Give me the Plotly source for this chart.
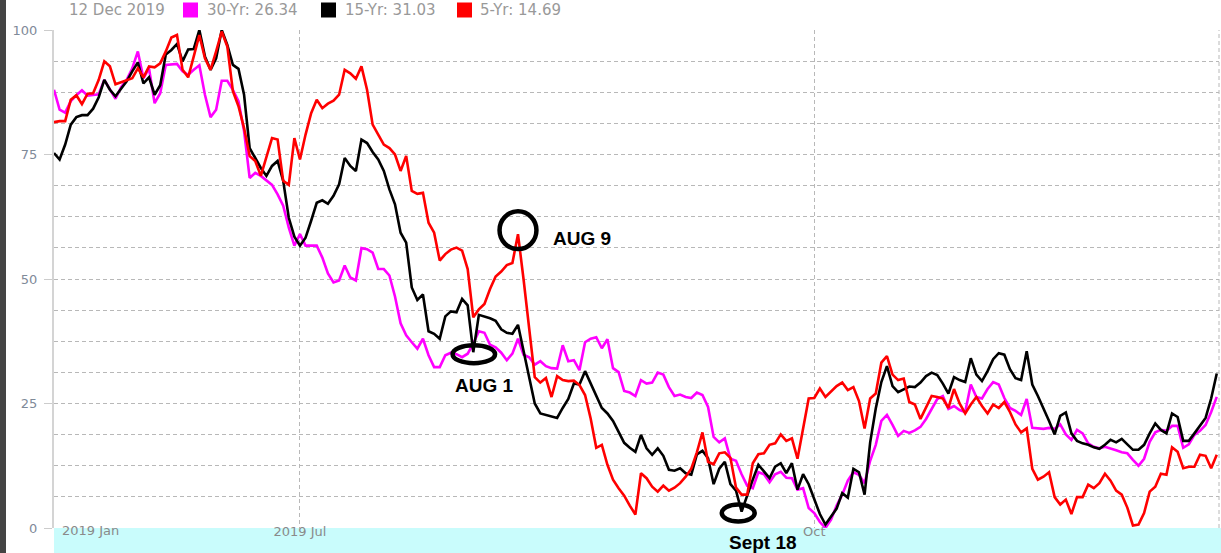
import plotly.graph_objects as go
import pandas as pd

# ---------------- data ----------------
START_DATE = "2019-05-18"
HEADER_DATE = "12 Dec 2019"
series_names = ["30-Yr", "15-Yr", "5-Yr"]

yr30 = [
    88.0, 84.0, 83.4, 85.7, 86.9, 87.9, 86.8, 86.9, 87.1, 90.0, 88.0, 86.2, 88.5, 90.0, 92.3, 95.7, 90.3, 92.3,
    85.3, 87.3, 93.0, 93.1, 93.2, 91.7, 91.0, 92.0, 92.9, 87.0, 82.5, 84.0, 89.8, 89.8, 88.0, 85.7, 79.7, 70.3,
    71.3, 70.7, 69.8, 68.9, 67.0, 64.7, 60.3, 56.7, 59.0, 56.7, 56.7, 56.7, 54.3, 51.1, 49.3, 49.7, 52.7, 50.3,
    49.7, 56.2, 56.0, 55.3, 52.0, 52.0, 50.7, 46.5, 41.1, 38.7, 37.3, 36.0, 38.0, 34.7, 32.3, 32.3,
    34.7, 35.2, 34.9, 34.3, 35.0, 37.0, 39.5, 39.2, 36.8, 36.3, 35.2, 33.7, 35.0, 38.0, 34.8, 34.3, 32.8, 33.5,
    32.5, 32.1, 32.0, 36.7, 33.5, 33.7, 31.7, 37.3, 38.0, 38.3, 36.1, 37.9, 32.1, 31.3, 27.5, 27.2, 26.5,
    29.7, 29.0, 29.2, 31.2, 30.8, 28.3, 26.5, 26.8, 26.3, 26.1, 27.2, 26.7, 24.3, 18.3, 17.2, 18.0, 13.9, 13.5,
    10.8, 8.5, 8.0, 11.2, 10.8, 9.2, 10.8, 11.3, 10.1, 10.0, 7.7, 8.0, 4.0, 3.0, 1.2, 0.0, 1.7,
    4.5, 6.7, 9.5, 11.2, 10.7, 9.0, 13.5, 16.7, 21.5, 22.7, 20.7, 18.5, 19.5, 19.1, 19.6, 20.3, 21.9, 23.9,
    25.9, 26.5, 23.9, 24.5, 23.7, 23.3, 28.8, 26.3, 26.0, 27.9, 29.3, 28.8, 26.1, 24.1, 23.5,
    22.7, 25.9, 20.1, 20.0, 19.9, 20.1, 19.9, 20.8, 18.8, 17.7, 19.7, 19.0, 17.0, 16.3, 16.0, 16.3, 16.0, 15.6,
    15.2, 15.0, 13.7, 12.5, 13.9, 17.3, 19.2, 19.7, 19.5, 20.5, 20.5, 16.1, 16.8, 18.7, 19.5, 20.7, 23.3, 26.34,
]

yr15 = [
    75.3, 74.0, 77.0, 81.0, 82.5, 82.9, 82.9, 84.2, 86.5, 90.0, 88.0, 86.7, 88.2, 89.7, 91.7, 93.5, 89.3, 90.5,
    87.0, 88.9, 95.1, 96.0, 97.2, 93.7, 96.1, 96.2, 100.0, 94.7, 92.0, 94.3, 100.0, 97.0, 93.0, 92.2, 87.0, 76.3,
    74.3, 72.3, 70.7, 72.7, 73.7, 69.7, 62.3, 58.5, 56.7, 58.3, 61.7, 65.3, 65.8, 65.1, 66.7, 69.0, 74.3, 72.7,
    71.7, 78.0, 77.3, 75.5, 74.0, 71.7, 68.0, 65.0, 59.3, 57.3, 48.3, 45.8, 46.9, 39.5, 39.0, 38.0,
    42.5, 43.5, 43.3, 46.0, 44.7, 35.3, 42.8, 42.5, 42.1, 41.6, 39.9, 39.2, 39.0, 40.8, 35.7, 30.3, 25.0, 23.0,
    22.7, 22.5, 22.1, 24.1, 25.9, 29.0, 28.8, 31.5, 29.0, 26.5, 24.1, 23.0, 21.5, 19.3, 17.1, 16.1, 15.3, 18.7,
    16.0, 14.7, 16.0, 14.5, 11.7, 11.5, 12.0, 11.0, 10.7, 14.8, 15.5, 14.0, 8.8, 11.9, 13.3, 8.8, 7.5, 3.3,
    6.7, 9.7, 12.7, 11.3, 10.0, 12.3, 13.0, 11.0, 13.0, 7.7, 10.8, 8.8, 6.0, 2.8, 0.7, 2.2,
    3.9, 7.0, 6.1, 11.9, 11.2, 6.7, 17.2, 24.0, 29.3, 32.5, 28.5, 27.3, 27.9, 28.4, 28.3, 29.2, 30.5, 31.2,
    30.7, 29.0, 27.0, 30.3, 29.7, 29.3, 34.1, 30.8, 29.5, 31.5, 33.9, 35.1, 34.8, 31.9, 30.1,
    29.7, 35.5, 28.8, 26.5, 24.1, 21.5, 18.8, 22.5, 23.2, 19.0, 17.5, 17.0, 16.7, 16.2, 15.9, 16.7, 17.7, 17.2,
    17.9, 16.7, 15.7, 15.7, 16.7, 19.0, 21.0, 19.7, 19.0, 23.0, 22.3, 17.5, 17.5, 19.0, 20.5, 22.1, 26.0, 31.03,
]

yr5 = [
    81.5, 81.7, 81.7, 86.0, 86.9, 85.1, 87.2, 87.3, 90.0, 93.7, 92.7, 89.1, 89.5, 89.9, 90.3, 92.3, 90.5, 92.7,
    92.5, 93.3, 95.7, 98.5, 99.0, 92.0, 90.5, 94.7, 99.0, 94.3, 92.0, 95.7, 99.7, 96.7, 87.7, 84.7, 80.3, 74.7,
    73.7, 70.7, 74.3, 78.3, 78.0, 69.7, 68.9, 78.3, 74.0, 79.0, 83.3, 86.0, 84.3, 85.2, 85.8, 87.0, 92.0, 91.3,
    90.2, 92.7, 88.0, 81.0, 79.0, 77.0, 76.3, 75.0, 71.7, 74.7, 67.7, 67.1, 67.3, 61.3, 59.3, 53.7,
    55.0, 55.9, 56.3, 55.7, 52.0, 42.3, 43.9, 45.0, 48.0, 50.5, 51.5, 52.8, 53.2, 59.0, 49.9, 40.4, 30.3, 29.2,
    30.1, 26.3, 30.5, 29.7, 29.5, 29.6, 28.7, 26.7, 22.0, 16.1, 16.7, 12.7, 9.7,
    8.0, 6.5, 4.5,
    2.7, 11.0, 10.0, 8.3, 7.3, 8.5, 7.5, 8.1, 9.0, 10.3, 11.9, 15.2, 19.2, 13.3, 12.8, 15.0, 15.2, 14.1,
    8.1, 6.7, 6.7, 13.0, 14.8, 15.0, 16.7, 17.0, 18.8, 17.5, 18.0, 13.9, 20.3, 26.0, 26.1, 28.0, 26.3, 27.5,
    28.5, 29.2, 27.7, 28.3, 25.5, 20.0, 26.0, 27.0, 33.2, 34.5, 30.8, 29.7, 30.0, 25.3, 24.8, 21.9, 24.3, 26.5,
    26.3, 26.0, 24.1, 27.9, 25.0, 23.0, 24.8, 26.3, 24.5, 23.0, 24.8, 24.1, 25.3, 23.3, 20.8,
    19.2, 20.0, 11.9, 9.7, 10.3, 11.2, 6.2, 4.7, 5.7, 2.8, 6.2, 6.2, 8.7, 8.0, 9.0, 10.9, 9.5, 7.5,
    6.7, 4.1, 0.5, 0.7, 3.0, 7.3, 8.3, 10.9, 10.7, 16.2, 15.3, 12.0, 12.3, 12.3, 14.7, 14.5, 12.0, 14.69,
]

y_tick_vals = [0, 25, 50, 75, 100]
x_tick_dates = ["2019-07-01", "2019-10-01"]
x_tick_text = ["2019 Jul", "Oct"]
first_label = "2019 Jan"

callouts = [  # (label, date)
    ("AUG 9", "2019-08-09"),
    ("AUG 1", "2019-08-01"),
    ("Sept 18", "2019-09-18"),
]

# ---------------- figure ----------------
dates = pd.date_range(START_DATE, periods=len(yr15), freq="D")
colors = ["#ff00ff", "#000000", "#ff0000"]
values = [yr30, yr15, yr5]

W, H = 1221, 553
L, R, T, B = 54, 2, 30, 25
PW, PH = W - L - R, H - T - B


def px(x):
    return (x - L) / PW


def py(y):
    return (H - B - y) / PH


fig = go.Figure()
for name, vals, col in zip(series_names, values, colors):
    fig.add_trace(go.Scatter(x=dates, y=vals, mode="lines", name=name,
                             line=dict(color=col, width=2.6), showlegend=False))

day = pd.Timedelta(days=1)
x_end = dates[-1] + 0.4 * day

grid_col = "#b8b8b8"
fig.update_layout(
    width=W, height=H,
    margin=dict(l=L, r=R, t=T, b=B),
    paper_bgcolor="white", plot_bgcolor="white",
    font=dict(family="DejaVu Sans", color="#888888"),
    xaxis=dict(
        range=[dates[0], x_end], type="date",
        tickvals=x_tick_dates, ticktext=x_tick_text,
        showgrid=True, gridcolor=grid_col, griddash="4px,3px", gridwidth=1,
        ticks="", showline=False, zeroline=False,
        tickfont=dict(size=13, color="#8a8a8a"),
        ticklabelstandoff=-6,
    ),
    yaxis=dict(
        range=[0, 100], tickvals=y_tick_vals,
        showgrid=True, gridcolor=grid_col, griddash="4px,3px", gridwidth=1,
        minor=dict(dtick=6.25, tick0=0, showgrid=True, gridcolor=grid_col,
                   griddash="4px,3px", gridwidth=1, ticks=""),
        ticks="outside", ticklen=8, tickcolor="#cccccc", tickwidth=1,
        showline=True, linecolor="#d4d4d4", linewidth=2,
        zeroline=False,
        tickfont=dict(size=13, color="#7f8a99"),
        ticklabelstandoff=4,
    ),
)

shapes = []
# cyan band under the plot
shapes.append(dict(type="rect", xref="paper", yref="paper", x0=0, x1=px(W), y0=py(H), y1=0,
                   fillcolor="#c9fcfc", line=dict(width=0), layer="below"))
# window edge strip on the left
shapes.append(dict(type="rect", xref="paper", yref="paper", x0=px(0), x1=px(6), y0=py(H), y1=py(0),
                   fillcolor="#444444", line=dict(width=0)))
# right dashed border
shapes.append(dict(type="line", xref="paper", yref="paper", x0=1, x1=1, y0=0, y1=1,
                   line=dict(color=grid_col, width=1, dash="4px,3px")))

# callout circles (centre offsets in days / value units, half sizes)
ell = {
    "AUG 9": (0.0, 59.8, 3.3, 3.8),
    "AUG 1": (0.1, 34.9, 3.8, 1.8),
    "Sept 18": (-0.6, 3.0, 2.95, 1.7),
}
text_pos = {  # (paper y, xshift, xanchor)
    "AUG 9": (py(238), 33, "left"),
    "AUG 1": (py(385), 11, "center"),
    "Sept 18": (py(542), 21, "center"),
}
annotations = []
for label, d in callouts:
    t = pd.Timestamp(d)
    dx, cy, hx, hy = ell[label]
    c = t + dx * day
    shapes.append(dict(type="circle", xref="x", yref="y",
                       x0=c - hx * day, x1=c + hx * day, y0=cy - hy, y1=cy + hy,
                       line=dict(color="black", width=4.5)))
    tv, xs, xa = text_pos[label]
    annotations.append(dict(x=t, y=tv, xref="x", yref="paper", text=label, showarrow=False,
                            xanchor=xa, yanchor="middle", xshift=xs,
                            font=dict(family="Liberation Sans", size=19, color="black", weight="bold")))

# first x label
annotations.append(dict(x=0, y=py(530), xref="paper", yref="paper", text=first_label, showarrow=False,
                        xanchor="left", yanchor="middle", xshift=6,
                        font=dict(size=13, color="#8a8a8a")))

# header: date + legend
hy = py(10.5)
annotations.append(dict(x=px(67), y=hy, xref="paper", yref="paper", text=HEADER_DATE, showarrow=False,
                        xanchor="left", yanchor="middle", font=dict(size=15, color="#999999")))
legend_x = [(183, 205), (321, 343), (457, 478)]
for (sx, tx), name, vals, col in zip(legend_x, series_names, values, colors):
    shapes.append(dict(type="rect", xref="paper", yref="paper", x0=px(sx), x1=px(sx + 15),
                       y0=py(17.5), y1=py(2.5), fillcolor=col, line=dict(width=0)))
    annotations.append(dict(x=px(tx), y=hy, xref="paper", yref="paper",
                            text=f"{name}: {vals[-1]:.2f}", showarrow=False,
                            xanchor="left", yanchor="middle", font=dict(size=15, color="#999999")))

fig.update_layout(shapes=shapes, annotations=annotations)
fig.write_html("out.html")
